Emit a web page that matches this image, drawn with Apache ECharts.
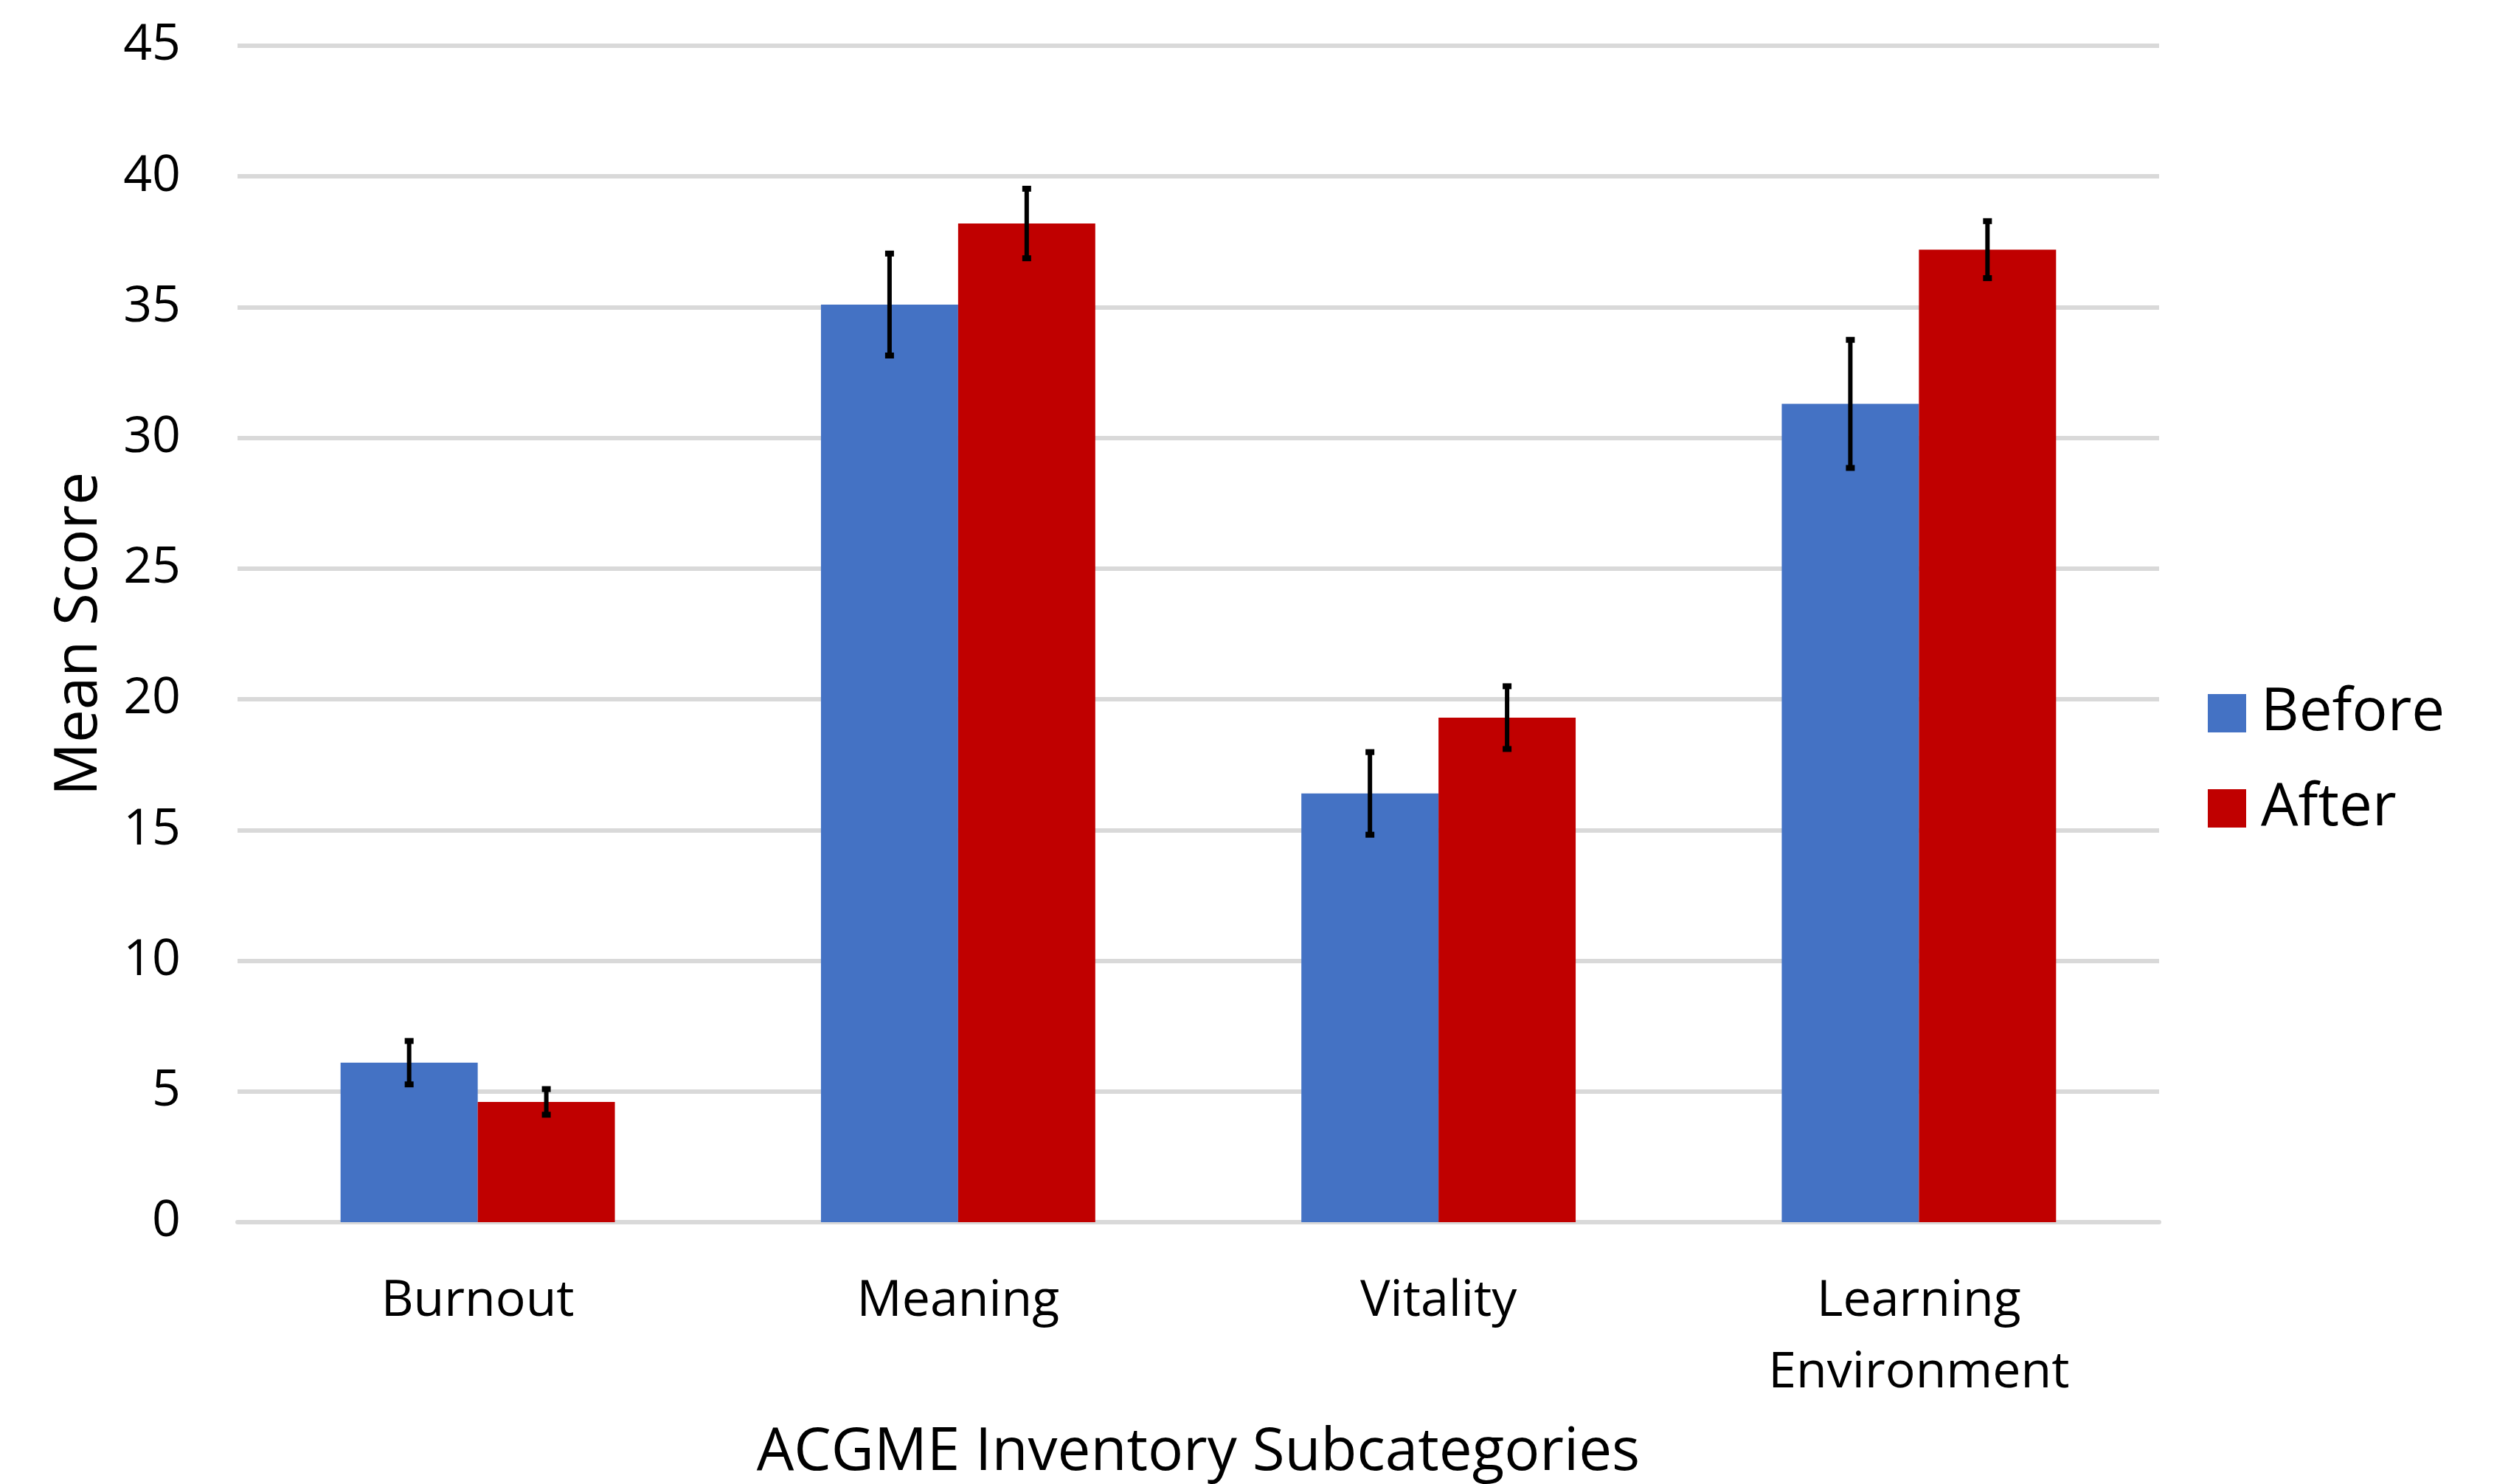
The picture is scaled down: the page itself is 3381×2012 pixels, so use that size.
<!DOCTYPE html>
<html>
<head>
<meta charset="utf-8">
<script src="https://cdn.jsdelivr.net/npm/echarts@6/dist/echarts.min.js"></script>
<style>
  html, body { margin: 0; padding: 0; background: #fff; }
  #chart1 { width: 3381px; height: 2012px; }
</style>
</head>
<body>
<div id="chart1"></div>
<script>
// data
var categories = ['Burnout', 'Meaning', 'Vitality', 'Learning\nEnvironment'];
var beforeVals = [6.1, 35.1, 16.4, 31.3];
var afterVals = [4.6, 38.2, 19.3, 37.2];
var beforeErr = [0.83, 1.95, 1.58, 2.45];
var afterErr = [0.49, 1.33, 1.2, 1.09];
var yTicks = [0, 5, 10, 15, 20, 25, 30, 35, 40, 45];

var FONT = '"Open Sans", "DejaVu Sans", sans-serif';
var CAT_GAP = 0.429;  // share of the category band left empty

function errData(vals, errs) {
    return vals.map(function (v, i) { return [i, v, errs[i]]; });
}

// error bars, shifted to sit on the middle of each bar of the pair
function makeErrRender(side) {
    return function (params, api) {
        var i = api.value(0), v = api.value(1), e = api.value(2);
        var band = api.size([1, 0])[0];
        var off = side * band * (1 - CAT_GAP) / 4;
        var top = api.coord([i, v + e]);
        var bot = api.coord([i, v - e]);
        var x = top[0] + off;
        var capW = 12, capH = 8;
        return {
            type: 'group',
            children: [
                { type: 'line', shape: { x1: x, y1: top[1], x2: x, y2: bot[1] },
                  style: { stroke: '#000', lineWidth: 6 } },
                { type: 'rect', shape: { x: x - capW / 2, y: top[1] - capH / 2, width: capW, height: capH },
                  style: { fill: '#000' } },
                { type: 'rect', shape: { x: x - capW / 2, y: bot[1] - capH / 2, width: capW, height: capH },
                  style: { fill: '#000' } }
            ]
        };
    };
}

var myChart = echarts.init(document.getElementById('chart1'));
var option = {
    backgroundColor: '#fff',
    animation: false,
    textStyle: { fontFamily: FONT, color: '#000' },
    grid: { left: 322, right: 454, top: 62, bottom: 355, containLabel: false, outerBoundsMode: 'none' },
    legend: {
        data: ['Before', 'After'],
        orient: 'vertical',
        left: 2988,
        top: 922,
        itemWidth: 52,
        itemHeight: 52,
        itemGap: 49,
        icon: 'rect',
        textStyle: { fontSize: 80, fontFamily: FONT, color: '#000', lineHeight: 52, padding: [0, 0, 0, 15] }
    },
    xAxis: {
        type: 'category',
        data: categories,
        name: 'ACGME Inventory Subcategories',
        nameLocation: 'middle',
        nameGap: 273,
        nameTextStyle: { fontSize: 80, fontFamily: FONT, color: '#000' },
        axisLine: { lineStyle: { color: '#d9d9d9', width: 6 } },
        axisTick: { show: false },
        axisLabel: { fontSize: 68, fontFamily: FONT, color: '#000', margin: 59, lineHeight: 97 }
    },
    yAxis: {
        type: 'value',
        min: yTicks[0],
        max: yTicks[yTicks.length - 1],
        interval: 5,
        name: 'Mean Score',
        nameLocation: 'middle',
        nameGap: 174,
        nameTextStyle: { fontSize: 80, fontFamily: FONT, color: '#000' },
        axisLine: { show: false },
        axisTick: { show: false },
        axisLabel: { fontSize: 68, fontFamily: FONT, color: '#000', margin: 77 },
        splitLine: { lineStyle: { color: '#d9d9d9', width: 6 } }
    },
    series: [
        {
            name: 'Before',
            type: 'bar',
            data: beforeVals,
            barGap: '0%',
            barCategoryGap: (CAT_GAP * 100) + '%',
            itemStyle: { color: '#4472c4' }
        },
        {
            name: 'After',
            type: 'bar',
            data: afterVals,
            itemStyle: { color: '#c00000' }
        },
        {
            name: 'BeforeErr',
            type: 'custom',
            renderItem: makeErrRender(-1),
            data: errData(beforeVals, beforeErr),
            encode: { x: 0, y: 1 },
            z: 10
        },
        {
            name: 'AfterErr',
            type: 'custom',
            renderItem: makeErrRender(1),
            data: errData(afterVals, afterErr),
            encode: { x: 0, y: 1 },
            z: 10
        }
    ]
};
myChart.setOption(option);
</script>
</body>
</html>
